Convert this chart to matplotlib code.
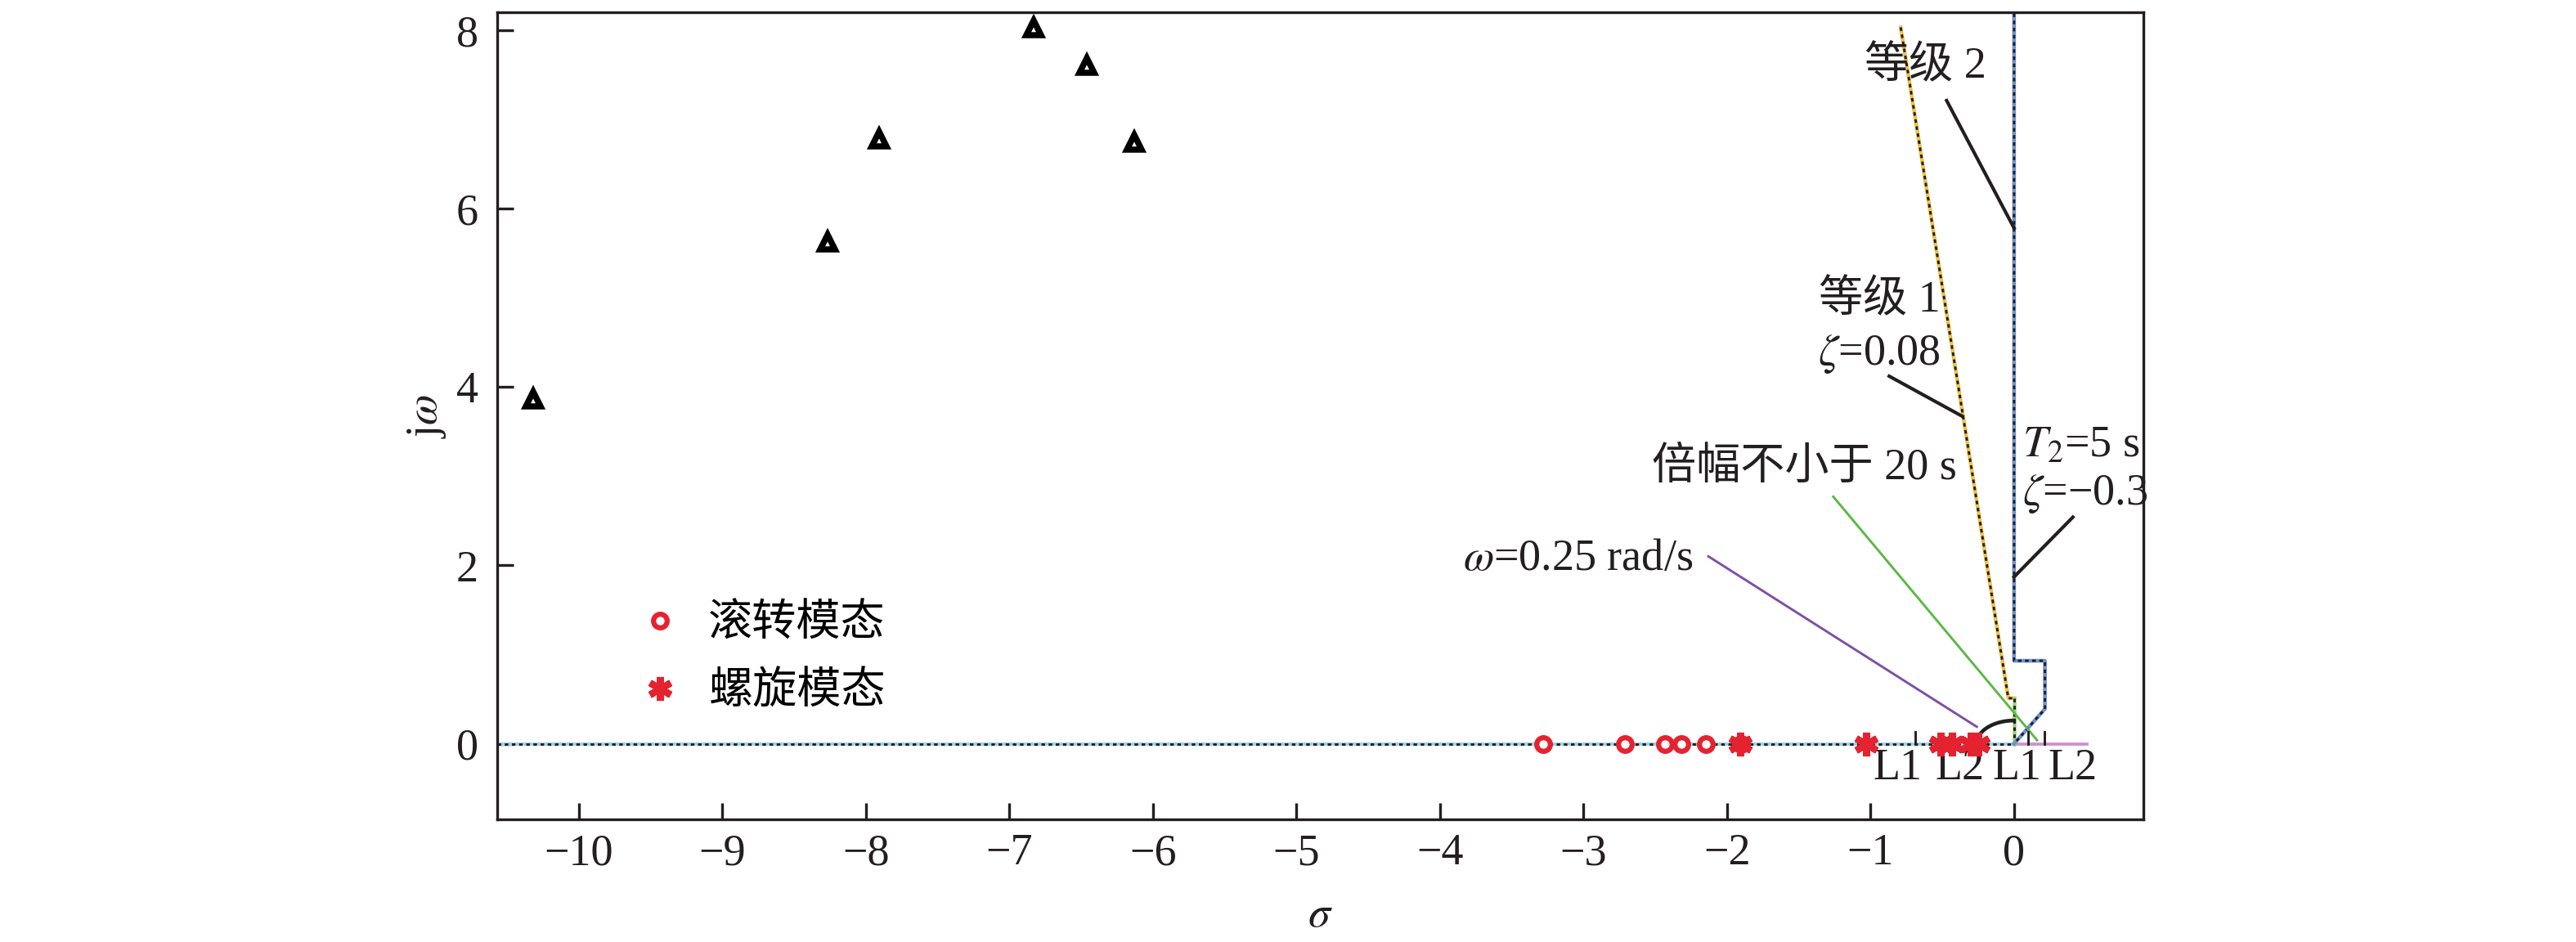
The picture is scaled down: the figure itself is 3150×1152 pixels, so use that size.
import matplotlib.pyplot as plt
import numpy as np

plt.rcParams['font.family'] = ['Liberation Serif', 'Noto Sans CJK SC']
plt.rcParams['mathtext.fontset'] = 'stix'
plt.rcParams['font.size'] = 13
plt.rcParams['axes.unicode_minus'] = True

# ---- poles ----
tri_x = [-10.32, -8.27, -7.91, -6.83, -6.46, -6.13]
tri_y = [3.86, 5.62, 6.78, 8.03, 7.60, 6.74]

roll_x = [-3.28, -2.71, -2.43, -2.32, -2.15, -1.90]
roll_y = [0, 0, 0, 0, 0, 0]

spiral_x = [-1.91, -1.03, -0.51, -0.43, -0.30, -0.25]
spiral_y = [0, 0, 0, 0, 0, 0]

# ---- boundaries ----
level1_x = [-0.79, -0.04, 0.0]
level1_y = [8.03, 0.51, 0.51]
level1_tail_x = [0.0, 0.0]
level1_tail_y = [0.51, 0.0]
level2_x = [0.0, 0.0, 0.215, 0.215, 0.0]
level2_y = [8.6, 0.93, 0.93, 0.39, 0.0]
real_axis_x = [-10.57, 0.0]
pink_x = [0.0, 0.51]
omega_r = 0.26
arc_deg = [20, 90]
marks_x = [-0.69, 0.10, 0.21]
marks_h = 0.13

level_labels = ['L1', 'L2', 'L1', 'L2']
level_label_x = [-0.81, -0.38, 0.02, 0.41]

xlim = (-10.57, 0.90)
ylim = (-0.85, 8.20)

ink = '#231f20'
red = '#e52330'

fig = plt.figure(figsize=(10.5, 3.84), dpi=300)
ax = fig.add_axes([0.193, 0.130, 0.832 - 0.193, 0.987 - 0.130])

# real axis line: light blue with black dashes
ax.plot(real_axis_x, [0, 0], color='#9fd3ea', lw=1.0, zorder=2)
ax.plot(real_axis_x, [0, 0], color=ink, lw=0.7, ls=(0, (1.5, 1.5)), zorder=2)
ax.plot(pink_x, [0, 0], color='#cf8fd0', lw=0.9, zorder=2)

# level 1 boundary (zeta = 0.08)
ax.plot(level1_x, level1_y, color='#f0c24a', lw=1.1, zorder=2)
ax.plot(level1_x, level1_y, color=ink, lw=0.7, ls=(0, (1.5, 1.5)), zorder=2)
ax.plot(level1_tail_x, level1_tail_y, color='#9ed27a', lw=1.1, zorder=2)
ax.plot(level1_tail_x, level1_tail_y, color=ink, lw=0.7, ls=(0, (1.5, 1.5)), zorder=2)

# level 2 boundary
ax.plot(level2_x, level2_y, color='#6f93cf', lw=1.1, zorder=2)
ax.plot(level2_x, level2_y, color=ink, lw=0.7, ls=(0, (1.5, 1.5)), zorder=2)

# omega = 0.25 rad/s arc
th = np.radians(np.linspace(arc_deg[0], arc_deg[1], 60))
ax.plot(-omega_r * np.cos(th), omega_r * np.sin(th), color=ink, lw=1.1, zorder=3)

for mx in marks_x:
    ax.plot([mx, mx], [0, marks_h], color=ink, lw=0.7, zorder=3)

# poles
ax.plot(tri_x, tri_y, ls='none', marker='^', ms=4.5, mfc='white', mec='black', mew=1.8, zorder=4)
ax.plot(roll_x, roll_y, ls='none', marker='o', ms=4.0, mfc='white', mec=red, mew=1.5,
        zorder=4, label='滚转模态')
ax.plot(spiral_x, spiral_y, ls='none', marker=(6, 2, 0), ms=7, mec=red, mew=2.0,
        zorder=5, label='螺旋模态')

# annotations + leader lines
ax.text(-0.62, 7.58, '等级 2', ha='center', va='center', color=ink)
ax.plot([-0.47, 0.0], [7.21, 5.78], color=ink, lw=1.0)
ax.text(-0.94, 4.96, '等级 1', ha='center', va='center', color=ink)
ax.text(-0.94, 4.37, r'$\zeta$=0.08', ha='center', va='center', color=ink)
ax.plot([-0.87, -0.36], [4.12, 3.67], color=ink, lw=1.0)
ax.text(-1.46, 3.09, '倍幅不小于 20 s', ha='center', va='center', color=ink)
ax.plot([-1.26, 0.16], [2.77, 0.04], color='#5cb845', lw=0.7)
ax.text(-2.24, 2.07, r'$\omega$=0.25 rad/s', ha='right', va='center', color=ink)
ax.plot([-2.13, -0.26], [2.10, 0.19], color='#7d4fa6', lw=0.7)
ax.text(0.06, 3.34, r'$T_{\mathrm{2}}$=5 s', ha='left', va='center', color=ink)
ax.text(0.06, 2.80, r'$\zeta$=−0.3', ha='left', va='center', color=ink)
ax.plot([0.41, 0.0], [2.54, 1.87], color=ink, lw=1.0)

for lx, lt in zip(level_label_x, level_labels):
    ax.text(lx, -0.40, lt, ha='center', va='baseline', color=ink)

ax.legend(loc='center left', bbox_to_anchor=(0.088, 0.199), frameon=False,
          handlelength=0.8, handletextpad=0.7, borderpad=0, borderaxespad=0,
          labelspacing=0.6, numpoints=1)

ax.set_xlim(*xlim)
ax.set_ylim(*ylim)
ax.set_xticks(np.arange(-10, 1, 1))
ax.set_yticks([0, 2, 4, 6, 8])
ax.tick_params(direction='in', length=4.8, width=0.8, colors=ink, pad=4)
ax.tick_params(axis='y', pad=5.5)
for s in ax.spines.values():
    s.set_linewidth(0.8)
    s.set_color(ink)

ax.set_xlabel(r'$\sigma$', color=ink, labelpad=6)
ax.set_ylabel(r'j$\omega$', color=ink)
ax.yaxis.set_label_coords(-0.03, 0.5)

fig.savefig('out.png', dpi=300)
